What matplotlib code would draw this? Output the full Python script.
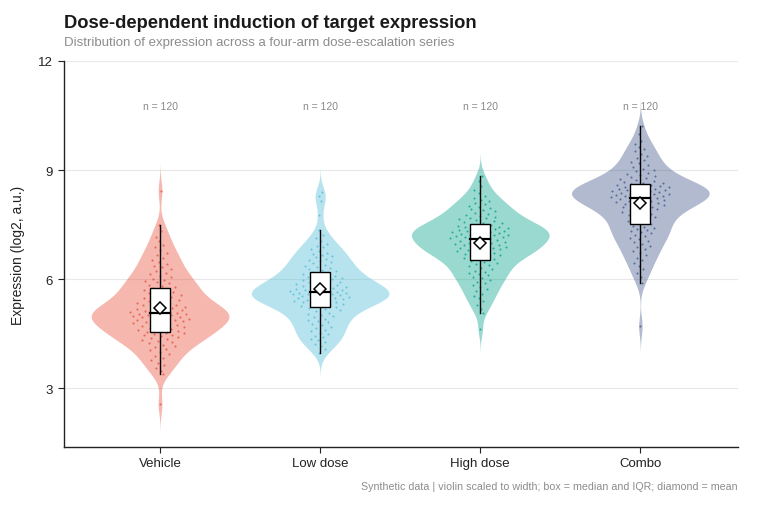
import numpy as np
import matplotlib
matplotlib.use("Agg")
import matplotlib.pyplot as plt

plt.rcParams['font.family'] = ['Liberation Sans', 'DejaVu Sans']

categories = ["Vehicle", "Low dose", "High dose", "Combo"]
colors = ["#E64B35", "#4DBBD5", "#00A087", "#3C5488"]

vehicle = [
    2.56, 3.38, 3.47, 3.55, 3.63, 3.70, 3.77, 3.83, 3.89, 3.94, 3.99, 4.04, 4.08, 4.12, 4.16,
    4.20, 4.24, 4.27, 4.30, 4.33, 4.36, 4.38, 4.41, 4.43, 4.45, 4.47, 4.49, 4.51, 4.53, 4.54,
    4.56, 4.585, 4.61, 4.635, 4.66, 4.68, 4.70, 4.72, 4.74, 4.76, 4.78, 4.80, 4.82, 4.84, 4.855,
    4.87, 4.885, 4.90, 4.915, 4.93, 4.945, 4.96, 4.975, 4.99, 5.00, 5.015, 5.03, 5.04, 5.05, 5.06,
    5.08, 5.095, 5.11, 5.125, 5.14, 5.16, 5.18, 5.20, 5.22, 5.24, 5.26, 5.28, 5.30, 5.32, 5.345,
    5.37, 5.395, 5.42, 5.445, 5.47, 5.495, 5.52, 5.55, 5.58, 5.61, 5.64, 5.67, 5.70, 5.73, 5.76,
    5.79, 5.82, 5.85, 5.88, 5.91, 5.94, 5.97, 6.01, 6.05, 6.09, 6.13, 6.17, 6.22, 6.27, 6.32,
    6.37, 6.42, 6.47, 6.53, 6.59, 6.65, 6.71, 6.79, 6.87, 6.95, 7.05, 7.17, 7.32, 7.49, 8.43,
]
low_dose = [
    3.98, 4.08, 4.16, 4.22, 4.28, 4.32, 4.36, 4.40, 4.44, 4.48, 4.53, 4.57, 4.61, 4.65, 4.69,
    4.73, 4.77, 4.81, 4.84, 4.88, 4.91, 4.95, 4.98, 5.02, 5.05, 5.08, 5.11, 5.14, 5.17, 5.20,
    5.23, 5.25, 5.27, 5.29, 5.31, 5.32, 5.34, 5.36, 5.37, 5.39, 5.40, 5.42, 5.43, 5.45, 5.46,
    5.48, 5.49, 5.50, 5.52, 5.53, 5.54, 5.56, 5.57, 5.58, 5.59, 5.60, 5.61, 5.62, 5.63, 5.64,
    5.66, 5.67, 5.68, 5.70, 5.71, 5.72, 5.74, 5.75, 5.77, 5.78, 5.80, 5.81, 5.83, 5.85, 5.87,
    5.89, 5.91, 5.93, 5.95, 5.97, 5.99, 6.01, 6.03, 6.05, 6.07, 6.09, 6.12, 6.14, 6.17, 6.19,
    6.22, 6.25, 6.28, 6.31, 6.34, 6.37, 6.40, 6.43, 6.46, 6.49, 6.52, 6.56, 6.60, 6.63, 6.66,
    6.70, 6.73, 6.77, 6.82, 6.87, 6.92, 6.97, 7.04, 7.12, 7.20, 7.35, 7.76, 8.16, 8.29, 8.39,
]
high_dose = [
    4.62, 5.07, 5.18, 5.30, 5.39, 5.47, 5.54, 5.60, 5.66, 5.72, 5.78, 5.83, 5.88, 5.93, 5.97,
    6.02, 6.06, 6.10, 6.14, 6.17, 6.20, 6.23, 6.27, 6.31, 6.35, 6.39, 6.42, 6.45, 6.48, 6.51,
    6.54, 6.565, 6.59, 6.615, 6.64, 6.66, 6.68, 6.70, 6.72, 6.74, 6.76, 6.78, 6.80, 6.82, 6.835,
    6.85, 6.865, 6.88, 6.895, 6.91, 6.925, 6.94, 6.955, 6.97, 6.985, 7.00, 7.015, 7.03, 7.05, 7.07,
    7.11, 7.12, 7.14, 7.15, 7.16, 7.17, 7.19, 7.20, 7.21, 7.22, 7.24, 7.25, 7.26, 7.27, 7.29,
    7.30, 7.31, 7.33, 7.34, 7.35, 7.37, 7.38, 7.40, 7.41, 7.43, 7.44, 7.46, 7.47, 7.49, 7.50,
    7.53, 7.55, 7.57, 7.60, 7.62, 7.64, 7.67, 7.69, 7.71, 7.74, 7.77, 7.80, 7.83, 7.86, 7.89,
    7.92, 7.95, 7.98, 8.02, 8.06, 8.10, 8.14, 8.18, 8.22, 8.29, 8.36, 8.44, 8.56, 8.70, 8.84,
]
combo = [
    4.70, 5.89, 6.05, 6.18, 6.28, 6.37, 6.45, 6.53, 6.59, 6.65, 6.71, 6.77, 6.82, 6.87, 6.92,
    6.97, 7.02, 7.06, 7.10, 7.14, 7.18, 7.22, 7.26, 7.29, 7.32, 7.35, 7.38, 7.41, 7.44, 7.47,
    7.52, 7.56, 7.60, 7.64, 7.67, 7.70, 7.73, 7.76, 7.79, 7.82, 7.85, 7.87, 7.90, 7.92, 7.95,
    7.97, 7.99, 8.01, 8.03, 8.05, 8.07, 8.09, 8.11, 8.13, 8.14, 8.16, 8.17, 8.19, 8.20, 8.22,
    8.24, 8.25, 8.26, 8.28, 8.29, 8.30, 8.31, 8.33, 8.34, 8.35, 8.36, 8.38, 8.39, 8.40, 8.41,
    8.43, 8.44, 8.45, 8.46, 8.48, 8.49, 8.50, 8.52, 8.53, 8.54, 8.55, 8.57, 8.58, 8.59, 8.61,
    8.63, 8.65, 8.68, 8.70, 8.72, 8.75, 8.77, 8.80, 8.83, 8.86, 8.90, 8.93, 8.97, 9.00, 9.04,
    9.08, 9.13, 9.18, 9.23, 9.28, 9.33, 9.39, 9.45, 9.51, 9.57, 9.64, 9.72, 9.80, 9.98, 10.20,
]
groups = [vehicle, low_dose, high_dose, combo]

yticks = [3, 6, 9, 12]

title = "Dose-dependent induction of target expression"
subtitle = "Distribution of expression across a four-arm dose-escalation series"
ylabel = "Expression (log2, a.u.)"
caption = "Synthetic data | violin scaled to width; box = median and IQR; diamond = mean"


def kde(data, grid, bw):
    data = np.asarray(data)
    z = (grid[:, None] - data[None, :]) / bw
    return np.exp(-0.5 * z ** 2).sum(axis=1)


fig = plt.figure(figsize=(7.6, 5.06), dpi=100)
ax = fig.add_axes([0.0842, 0.1146, 0.8869, 0.7629])

half_w = 0.43
box_w = 0.125
for i, (vals, col) in enumerate(zip(groups, colors)):
    vals = np.asarray(vals)
    bw = 0.7 * vals.std(ddof=1) * len(vals) ** (-0.2)
    grid = np.linspace(vals.min() - 2.9 * bw, vals.max() + 2.9 * bw, 500)
    dens = kde(vals, grid, bw)
    w = dens / dens.max() * half_w
    ax.fill_betweenx(grid, i - w, i + w, color=col, alpha=0.4, lw=0, zorder=2)

    # sina-style jittered points
    wv = kde(vals, vals, bw) / dens.max() * half_w
    idx = np.arange(len(vals))
    u = 2 * ((idx * 0.6180339887 + 0.31) % 1.0) - 1
    xs = i + u * wv * 0.45
    ax.scatter(xs, vals, s=2.2, color=col, alpha=0.75, lw=0, zorder=3)

    q1, med, q3 = np.percentile(vals, [25, 50, 75])
    iqr = q3 - q1
    lo = vals[vals >= q1 - 1.5 * iqr].min()
    hi = vals[vals <= q3 + 1.5 * iqr].max()
    ax.plot([i, i], [lo, q1], color="black", lw=1.0, zorder=4)
    ax.plot([i, i], [q3, hi], color="black", lw=1.0, zorder=4)
    ax.add_patch(plt.Rectangle((i - box_w / 2, q1), box_w, q3 - q1,
                               facecolor="white", edgecolor="black", lw=1.0, zorder=5))
    ax.plot([i - box_w / 2, i + box_w / 2], [med, med], color="black", lw=1.6, zorder=6)
    ax.plot([i], [vals.mean()], marker="D", ms=6.0, mfc="white", mec="black", mew=1.1, zorder=7)
    ax.text(i, 10.76, f"n = {len(vals)}", ha="center", va="center", fontsize=7.5, color="#8a8a8a", zorder=8)

ax.set_xlim(-0.6, 3.61)
ax.set_ylim(1.38, 12)
ax.set_yticks(yticks)
ax.set_yticklabels([str(t) for t in yticks])
ax.set_xticks(range(len(categories)))
ax.set_xticklabels(categories)
ax.tick_params(axis="both", labelsize=9.5, colors="#222222", length=4, width=0.8)
ax.tick_params(axis="y", pad=4)
ax.grid(axis="y", color="#e8e8e8", lw=0.8, zorder=0)
ax.set_axisbelow(True)
for s in ["top", "right"]:
    ax.spines[s].set_visible(False)
for s in ["left", "bottom"]:
    ax.spines[s].set_color("#222222")
    ax.spines[s].set_linewidth(1.0)
ax.set_ylabel(ylabel, fontsize=10, color="#222222")
ax.yaxis.set_label_coords(-0.058, 0.5)

fig.text(64 / 760, 1 - 24 / 506, title, fontsize=13.2, fontweight="bold", color="#1a1a1a", ha="left", va="center")
fig.text(64 / 760, 1 - 43 / 506, subtitle, fontsize=9.5, color="#8c8c8c", ha="left", va="center")
fig.text(738 / 760, 1 - 487 / 506, caption, fontsize=7.65, color="#8c8c8c", ha="right", va="center")

fig.savefig("out.png", dpi=100)
